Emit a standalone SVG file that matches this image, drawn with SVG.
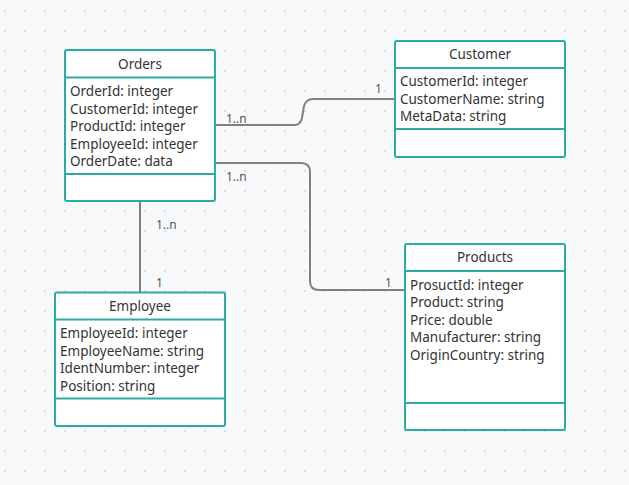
<svg xmlns="http://www.w3.org/2000/svg" width="629" height="485" viewBox="0 0 629 485">
<defs>
<pattern id="dots" x="0" y="0" width="20" height="20" patternUnits="userSpaceOnUse">
<circle cx="5" cy="11" r="1" fill="#d4d7dc"/>
</pattern>
<style>
.box{fill:#fff;stroke:#2aaca5;stroke-width:2}
.sep{stroke:#2aaca5;stroke-width:2}
.t{font-family:"Noto Sans","Open Sans",sans-serif;font-size:13.5px;fill:#333}
.h{text-anchor:middle}
.c{fill:none;stroke:#808080;stroke-width:2}
.l{font-family:"Noto Sans","Open Sans",sans-serif;font-size:12px;fill:#555}
</style>
</defs>
<rect width="629" height="485" fill="#f8f9fb"/>
<rect width="629" height="485" fill="url(#dots)"/>
<g id="connectors">
<path class="c" d="M215,125 H295 Q300,125 302,118 L304,106 Q306,99 313,99 H395"/>
<path class="c" d="M215,163 H301 Q310,163 310,172 V281 Q310,290 319,290 H405"/>
<path class="c" d="M140,201 V292"/>
<text class="l" x="226" y="123">1..n</text>
<text class="l" x="375" y="93">1</text>
<text class="l" x="226" y="181">1..n</text>
<text class="l" x="385" y="287">1</text>
<text class="l" x="156" y="229">1..n</text>
<text class="l" x="156" y="287">1</text>
</g>
<g id="orders">
<rect class="box" x="65" y="50" width="150" height="151" rx="2"/>
<line class="sep" x1="65" y1="77.5" x2="215" y2="77.5"/>
<line class="sep" x1="65" y1="174" x2="215" y2="174"/>
<text class="t h" x="140" y="69">Orders</text>
<text class="t" x="70" y="96">OrderId: integer</text>
<text class="t" x="70" y="113.5">CustomerId: integer</text>
<text class="t" x="70" y="131">ProductId: integer</text>
<text class="t" x="70" y="148.5">EmployeeId: integer</text>
<text class="t" x="70" y="166">OrderDate: data</text>
</g>
<g id="customer">
<rect class="box" x="395" y="41" width="170" height="116" rx="2"/>
<line class="sep" x1="395" y1="68" x2="565" y2="68"/>
<line class="sep" x1="395" y1="129" x2="565" y2="129"/>
<text class="t h" x="480" y="59">Customer</text>
<text class="t" x="400" y="86">CustomerId: integer</text>
<text class="t" x="400" y="103.5">CustomerName: string</text>
<text class="t" x="400" y="121">MetaData: string</text>
</g>
<g id="employee">
<rect class="box" x="55" y="292.5" width="170" height="133.5" rx="2"/>
<line class="sep" x1="55" y1="319.5" x2="225" y2="319.5"/>
<line class="sep" x1="55" y1="398.5" x2="225" y2="398.5"/>
<text class="t h" x="140" y="311">Employee</text>
<text class="t" x="60" y="338">EmployeeId: integer</text>
<text class="t" x="60" y="355.5">EmployeeName: string</text>
<text class="t" x="60" y="373">IdentNumber: integer</text>
<text class="t" x="60" y="390.5">Position: string</text>
</g>
<g id="products">
<rect class="box" x="405" y="244" width="160" height="186" rx="2"/>
<line class="sep" x1="405" y1="271" x2="565" y2="271"/>
<line class="sep" x1="405" y1="403" x2="565" y2="403"/>
<text class="t h" x="485" y="262">Products</text>
<text class="t" x="410" y="289.5">ProsuctId: integer</text>
<text class="t" x="410" y="307">Product: string</text>
<text class="t" x="410" y="324.5">Price: double</text>
<text class="t" x="410" y="342">Manufacturer: string</text>
<text class="t" x="410" y="359.5">OriginCountry: string</text>
</g>
</svg>
